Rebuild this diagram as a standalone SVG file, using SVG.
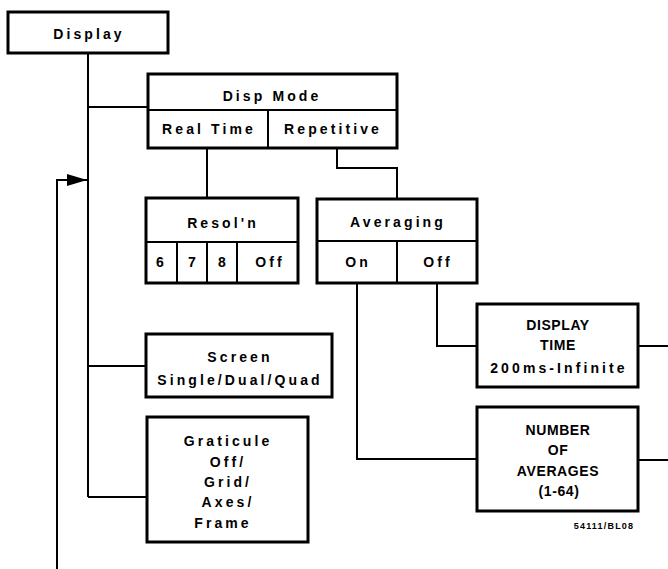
<svg xmlns="http://www.w3.org/2000/svg" width="668" height="569" viewBox="0 0 668 569">
<style>
  .box{fill:#fff;stroke:#000;stroke-width:3}
  .div{stroke:#000;stroke-width:2;fill:none}
  .c{stroke:#000;stroke-width:2;fill:none}
  text{font-family:"Liberation Sans",Arial,sans-serif;font-weight:bold;font-size:14px;fill:#000;text-anchor:middle}
  .t{letter-spacing:3.1px}
  .u{letter-spacing:0.6px}
  .s{font-size:9px;letter-spacing:1.2px}
</style>
<defs>
  <marker id="arr" markerUnits="userSpaceOnUse" markerWidth="20" markerHeight="12" refX="20" refY="6" orient="auto">
    <path d="M0,0 L20,6 L0,12 z" fill="#000"/>
  </marker>
</defs>
<rect width="668" height="569" fill="#fff"/>
<g id="connectors">
  <line class="c" x1="88" y1="53" x2="88" y2="497"/>
  <line class="c" x1="88" y1="107" x2="148" y2="107"/>
  <line class="c" x1="88" y1="366" x2="146" y2="366"/>
  <line class="c" x1="88" y1="497" x2="147" y2="497"/>
  <line class="c" x1="207" y1="148" x2="207" y2="198"/>
  <polyline class="c" points="337,148 337,168 397,168 397,199"/>
  <polyline class="c" points="357,283 357,459 477,459"/>
  <polyline class="c" points="437,283 437,346 477,346"/>
  <line class="c" x1="638" y1="346" x2="668" y2="346"/>
  <line class="c" x1="638" y1="460" x2="668" y2="460"/>
  <polyline class="c" points="57,569 57,180 87,180" marker-end="url(#arr)"/>
</g>
<g id="display">
  <rect class="box" x="8" y="12" width="160" height="41"/>
  <text class="t" x="89" y="39">Display</text>
</g>
<g id="disp-mode">
  <rect class="box" x="148" y="74" width="249" height="74"/>
  <line class="div" x1="148" y1="110" x2="397" y2="110"/>
  <line class="div" x1="268" y1="110" x2="268" y2="148"/>
  <text class="t" x="272" y="101">Disp Mode</text>
  <text class="t" x="209" y="134">Real Time</text>
  <text class="t" x="333" y="134">Repetitive</text>
</g>
<g id="resolution">
  <rect class="box" x="146" y="198" width="152" height="85"/>
  <line class="div" x1="146" y1="242" x2="298" y2="242"/>
  <line class="div" x1="177" y1="242" x2="177" y2="283"/>
  <line class="div" x1="207" y1="242" x2="207" y2="283"/>
  <line class="div" x1="237" y1="242" x2="237" y2="283"/>
  <text class="t" x="223" y="228">Resol'n</text>
  <text x="160" y="267">6</text>
  <text x="192" y="267">7</text>
  <text x="222" y="267">8</text>
  <text class="t" x="270" y="267">Off</text>
</g>
<g id="averaging">
  <rect class="box" x="317" y="199" width="160" height="84"/>
  <line class="div" x1="317" y1="241" x2="477" y2="241"/>
  <line class="div" x1="397" y1="241" x2="397" y2="283"/>
  <text class="t" x="398" y="227">Averaging</text>
  <text class="t" x="358" y="267">On</text>
  <text class="t" x="438" y="267">Off</text>
</g>
<g id="screen">
  <rect class="box" x="146" y="334" width="186" height="63"/>
  <text class="t" x="240" y="362">Screen</text>
  <text class="t" x="240" y="385">Single/Dual/Quad</text>
</g>
<g id="graticule">
  <rect class="box" x="147" y="417" width="161" height="125"/>
  <text class="t" x="228" y="446">Graticule</text>
  <text class="t" x="228" y="467">Off/</text>
  <text class="t" x="228" y="487">Grid/</text>
  <text class="t" x="228" y="507">Axes/</text>
  <text class="t" x="223" y="528">Frame</text>
</g>
<g id="display-time">
  <rect class="box" x="477" y="304" width="161" height="83"/>
  <text class="u" x="558" y="330">DISPLAY</text>
  <text class="u" x="558" y="350">TIME</text>
  <text class="t" x="559" y="373">200ms-Infinite</text>
</g>
<g id="number-of-averages">
  <rect class="box" x="477" y="407" width="161" height="104"/>
  <text class="u" x="558" y="435">NUMBER</text>
  <text class="u" x="558" y="455">OF</text>
  <text class="u" x="558" y="476">AVERAGES</text>
  <text class="u" x="559" y="496">(1-64)</text>
</g>
<text class="s" x="604" y="529">54111/BL08</text>
</svg>
